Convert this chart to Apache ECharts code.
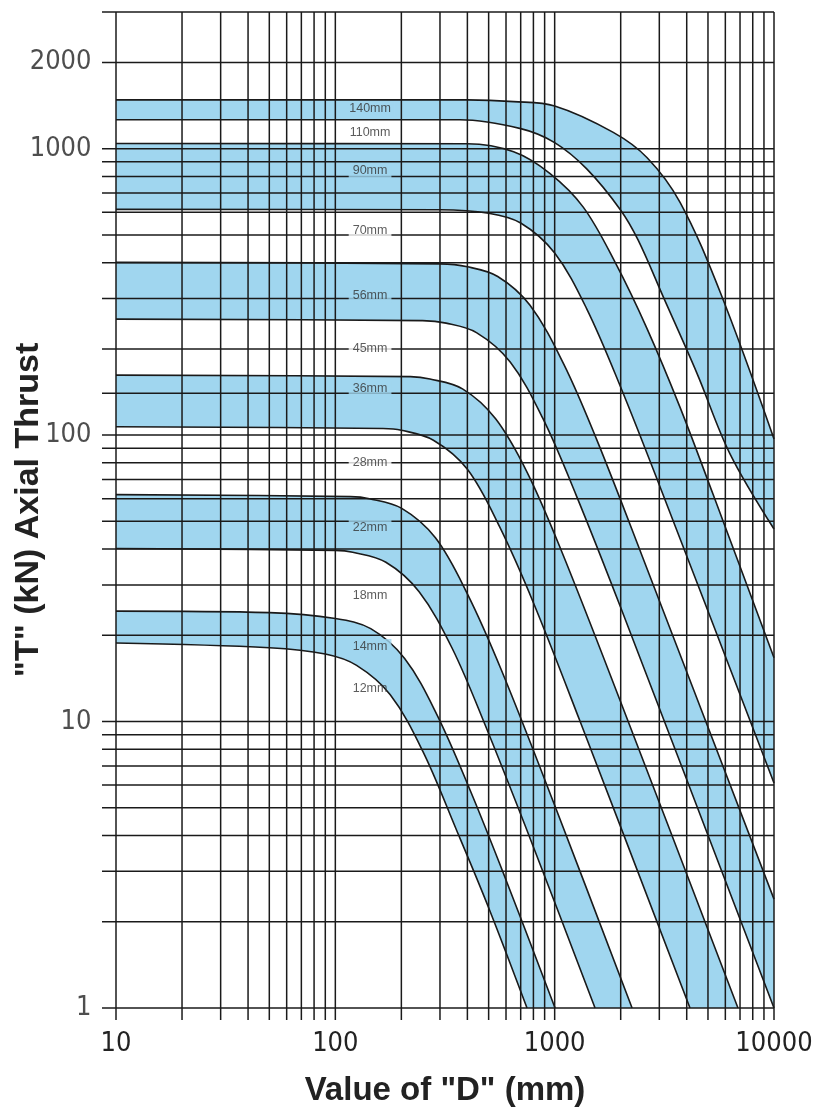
<!DOCTYPE html>
<html><head><meta charset="utf-8">
<script src="https://cdn.jsdelivr.net/npm/echarts/dist/echarts.min.js"></script>
<style>html,body{margin:0;padding:0;background:#fff}#c{width:820px;height:1115px}</style>
</head><body><div id="c"></div>
<script>
// axis extents and gridline values
const X_MIN = 10, X_MAX = 10000, Y_MIN = 1, Y_MAX = 3000;
const X_GRID = [10,20,30,40,50,60,70,80,90,100,200,300,400,500,600,700,800,900,1000,2000,3000,4000,5000,6000,7000,8000,9000,10000];
const Y_GRID = [1,2,3,4,5,6,7,8,9,10,20,30,40,50,60,70,80,90,100,140,200,300,400,500,600,700,800,900,1000,2000,3000];
const Y_TICK_LABELS = [1,10,100,1000,2000];

// curve names (top to bottom) and their [D, T] points
const CURVE_NAMES = ['140mm','110mm','90mm','70mm','56mm','45mm','36mm','28mm','22mm','18mm','14mm','12mm'];
const C140 = [[10,1480],[400,1480],[650,1460],[1000,1410],[1850,1140],[2640,930],[3730,650],[5680,316],[10000,97]];
const C110 = [[10,1262],[370,1262],[700,1175],[1000,1050],[1400,850],[2000,610],[2400,480],[3120,305],[4460,164],[6300,86],[10000,47]];
const C90  = [[10,1042],[400,1040],[650,975],[950,820],[1350,625],[1890,400],[2640,235],[3730,125],[5280,62],[10000,16.7]];
const C70  = [[10,614],[300,612],[500,595],[700,550],[1000,432],[1400,276],[2000,147],[3000,67],[10000,6.1]];
const C56  = [[10,401],[300,396],[400,387],[550,358],[772,284],[1100,177],[1550,97],[2500,38],[10000,2.4]];
const C45  = [[10,254],[250,251],[320,246],[440,228],[627,180],[880,115],[1250,62],[2000,25],[10000,1]];
const C36  = [[10,162],[220,160],[270,157],[380,145],[538,114],[750,74],[1080,39],[2000,11.7],[6850,1]];
const C28  = [[10,107],[165,105.5],[200,104],[280,96],[400,76],[560,48],[800,26],[1300,10.1],[4140,1]];
const C22  = [[10,62],[117,61],[143,60],[200,55.6],[286,43.8],[400,27.9],[572,15.1],[1000,5.1],[2254,1]];
const C18  = [[10,40.2],[100,39.6],[120,39],[170,36],[241,28.4],[340,18.1],[480,9.8],[800,3.65],[1528,1]];
const C14  = [[10,24.3],[50,24],[100,22.9],[145,21.1],[207,16.6],[290,10.6],[414,5.7],[600,2.8],[1004,1]];
const C12  = [[10,18.8],[50,18.1],[90,17.2],[125,15.7],[178,12.4],[250,7.9],[356,4.2],[500,2.24],[748,1]];
const CURVES = [C140,C110,C90,C70,C56,C45,C36,C28,C22,C18,C14,C12];

// label anchor: D value and T values
const LABEL_D = 144;
const LABEL_T = [1379,1138,839,519,308,200,145,80.2,47.6,27.6,18.3,13.0];

const BLUE = '#a0d6ef';
const INK = '#1a1a1a';
const NARROW = "'Liberation Sans Narrow','DejaVu Sans Condensed','Liberation Sans',sans-serif";
const SANS = "'Liberation Sans',Arial,sans-serif";

const chart = echarts.init(document.getElementById('c'), null, {renderer: 'canvas'});

const series = [];
CURVES.forEach((pts, i) => {
  series.push({
    name: CURVE_NAMES[i], type: 'line', data: pts, smooth: 0.35,
    showSymbol: false, symbol: 'none', silent: true, z: 2,
    lineStyle: {color: INK, width: 1.6},
    areaStyle: {color: i % 2 === 0 ? BLUE : '#ffffff', opacity: 1, origin: 'start'}
  });
});

series.push({
  type: 'custom', z: 4, silent: true, clip: false,
  data: X_GRID.map(v => [v, Y_MIN]),
  renderItem: (params, api) => {
    const v = api.value(0);
    const a = api.coord([v, Y_MAX]), b = api.coord([v, Y_MIN]);
    return {type: 'line', shape: {x1: a[0], y1: a[1], x2: b[0], y2: b[1] + 12},
      style: {stroke: INK, lineWidth: 1.5}};
  }
});
series.push({
  type: 'custom', z: 4, silent: true, clip: false,
  data: Y_GRID.map(v => [X_MIN, v]),
  renderItem: (params, api) => {
    const v = api.value(1);
    const a = api.coord([X_MIN, v]), b = api.coord([X_MAX, v]);
    return {type: 'line', shape: {x1: a[0] - 14, y1: a[1], x2: b[0], y2: b[1]},
      style: {stroke: INK, lineWidth: 1.5}};
  }
});

// y tick labels
series.push({
  type: 'scatter', z: 6, silent: true, symbolSize: 1,
  itemStyle: {color: 'rgba(0,0,0,0)'},
  data: Y_TICK_LABELS.map(v => [X_MIN, v]),
  label: {show: true, position: 'left', distance: 24, formatter: p => String(p.value[1]),
    fontFamily: NARROW, fontSize: 27, color: '#222'}
});

// curve labels
series.push({
  type: 'scatter', z: 6, silent: true, symbolSize: 1,
  itemStyle: {color: 'rgba(0,0,0,0)'},
  data: LABEL_T.map((t, i) => ({value: [LABEL_D, t], name: CURVE_NAMES[i],
    label: {backgroundColor: i === 11 ? 'transparent' : (i % 2 === 0 ? BLUE : '#ffffff')}})),
  label: {show: true, position: 'inside', formatter: p => p.name,
    fontFamily: SANS, fontSize: 12.5, color: '#333', padding: [1, 4]}
});

chart.setOption({
  animation: false,
  backgroundColor: '#ffffff',
  grid: {left: 116, right: 46, top: 12, bottom: 107, containLabel: false},
  xAxis: {
    type: 'log', logBase: 10, min: X_MIN, max: X_MAX,
    axisLine: {show: false}, axisTick: {show: false}, splitLine: {show: false},
    axisLabel: {fontFamily: NARROW, fontSize: 27, color: '#222', margin: 22,
      formatter: v => String(Math.round(v))},
    name: 'Value of "D" (mm)', nameLocation: 'middle', nameGap: 66,
    nameTextStyle: {fontFamily: SANS, fontWeight: 'bold', fontSize: 33, color: '#222'}
  },
  yAxis: {
    type: 'log', logBase: 10, min: Y_MIN, max: Y_MAX,
    axisLine: {show: false}, axisTick: {show: false}, splitLine: {show: false},
    axisLabel: {show: false},
    name: '"T" (kN) Axial Thrust', nameLocation: 'middle', nameGap: 70, nameRotate: 90,
    nameTextStyle: {fontFamily: SANS, fontWeight: 'bold', fontSize: 34, color: '#222'}
  },
  series: series
});
</script></body></html>
